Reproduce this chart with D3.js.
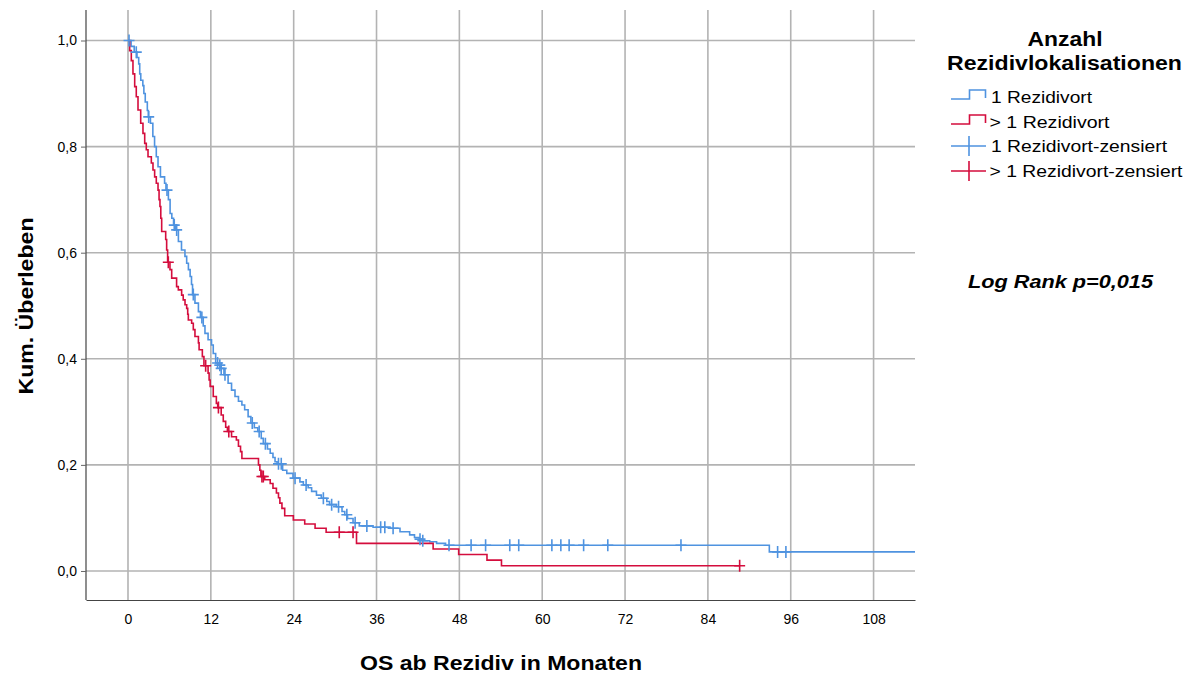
<!DOCTYPE html>
<html><head><meta charset="utf-8">
<script src="https://cdn.jsdelivr.net/npm/d3@7"></script>
<style>html,body{margin:0;padding:0;background:#fff;}svg{display:block;font-family:"Liberation Sans",Arial,Helvetica,sans-serif;}</style>
</head><body>
<svg id="chart" width="1191" height="673"></svg>
<script>
// ---- data ----
const xTicks = [0, 12, 24, 36, 48, 60, 72, 84, 96, 108];
const yTicks = [0, 0.2, 0.4, 0.6, 0.8, 1.0];
const yTickLabels = ["0,0", "0,2", "0,4", "0,6", "0,8", "1,0"];

const groupNames = ["1 Rezidivort", "> 1 Rezidivort"];
const censorNames = ["1 Rezidivort-zensiert", "> 1 Rezidivort-zensiert"];

// Group "1 Rezidivort": time at which survival drops to the value
const blueTime = [0, 0.45, 0.9, 1.3, 1.55, 1.7, 1.85, 2.15, 2.3, 2.5, 2.8, 2.95, 3.25, 3.6, 3.85, 4.1, 4.35, 4.7, 5.3, 5.5, 5.85, 6.1, 6.35, 6.6, 6.9, 7.3, 7.75, 8.25, 8.5, 8.75, 9.0, 9.2, 9.35, 9.7, 10.2, 10.5, 10.9, 11.15, 11.6, 12.1, 12.35, 12.7, 13.2, 13.4, 13.9, 14.5, 15.0, 15.5, 16.0, 16.5, 16.9, 17.4, 17.8, 18.3, 18.8, 19.3, 19.6, 20.2, 20.6, 21.0, 21.3, 21.6, 22.4, 23.0, 23.9, 24.9, 25.4, 26.1, 26.6, 27.3, 28.0, 28.8, 29.2, 30.2, 31.0, 31.4, 31.8, 32.6, 33.5, 35.5, 38.0, 39.4, 40.8, 41.5, 42.2, 42.6, 43.7, 44.7, 46.0, 92.9];
const blueSurv = [1, 0.989, 0.978, 0.968, 0.956, 0.937, 0.925, 0.915, 0.9, 0.884, 0.868, 0.856, 0.844, 0.819, 0.8, 0.781, 0.762, 0.743, 0.731, 0.718, 0.7, 0.674, 0.665, 0.652, 0.643, 0.621, 0.605, 0.593, 0.58, 0.568, 0.555, 0.54, 0.521, 0.505, 0.489, 0.478, 0.462, 0.448, 0.436, 0.426, 0.41, 0.392, 0.388, 0.382, 0.37, 0.354, 0.341, 0.329, 0.32, 0.313, 0.304, 0.291, 0.279, 0.27, 0.263, 0.25, 0.24, 0.23, 0.222, 0.214, 0.206, 0.202, 0.19, 0.184, 0.175, 0.168, 0.162, 0.157, 0.15, 0.143, 0.137, 0.131, 0.125, 0.121, 0.112, 0.106, 0.099, 0.091, 0.085, 0.0825, 0.0805, 0.074, 0.068, 0.063, 0.06, 0.057, 0.055, 0.052, 0.0485, 0.036];
const blueEnd = 114;
const blueCensor = [0.15, 1.2, 3.0, 5.65, 6.7, 7.05, 9.46, 10.7, 12.98, 13.3, 13.5, 14.05, 18.0, 19.0, 19.9, 21.8, 22.2, 24.2, 25.8, 28.3, 29.5, 30.5, 31.7, 32.9, 34.6, 36.6, 37.2, 38.4, 42.3, 42.7, 46.5, 49.7, 51.8, 55.3, 56.6, 61.4, 62.7, 63.9, 66.0, 69.5, 80.1, 94.1, 95.3];

// Group "> 1 Rezidivort"
const redTime = [0, 0.24, 0.48, 0.72, 0.97, 1.2, 1.45, 1.84, 2.17, 2.42, 2.65, 2.9, 3.38, 3.62, 3.86, 4.1, 4.35, 4.5, 4.63, 4.75, 4.88, 5.46, 5.6, 5.74, 6.08, 6.33, 7.04, 7.29, 7.77, 8.0, 8.26, 8.5, 8.65, 8.74, 9.22, 9.46, 9.7, 10.2, 10.3, 10.77, 11.0, 11.6, 11.75, 11.9, 12.35, 12.8, 13.0, 13.5, 13.8, 14.15, 14.4, 15.0, 15.7, 16.0, 16.3, 16.5, 18.9, 19.1, 19.25, 19.8, 20.6, 21.0, 21.5, 21.8, 22.0, 22.3, 22.7, 23.95, 25.6, 27.1, 28.7, 33.1, 44.2, 47.9, 52.0, 54.1];
const redSurv = [1, 0.981, 0.962, 0.937, 0.913, 0.894, 0.869, 0.844, 0.825, 0.806, 0.794, 0.781, 0.769, 0.756, 0.743, 0.731, 0.718, 0.7, 0.687, 0.665, 0.64, 0.625, 0.605, 0.582, 0.568, 0.552, 0.536, 0.53, 0.52, 0.511, 0.502, 0.495, 0.484, 0.473, 0.467, 0.455, 0.442, 0.43, 0.417, 0.404, 0.387, 0.373, 0.36, 0.348, 0.329, 0.316, 0.308, 0.294, 0.282, 0.271, 0.263, 0.253, 0.247, 0.235, 0.225, 0.212, 0.2, 0.19, 0.178, 0.172, 0.165, 0.156, 0.147, 0.138, 0.128, 0.118, 0.104, 0.096, 0.0887, 0.0805, 0.073, 0.052, 0.0415, 0.031, 0.0205, 0.010];
const redEnd = 88.6;
const redCensor = [5.84, 11.25, 13.1, 14.6, 19.4, 19.6, 30.6, 32.6, 88.6];

// ---- layout / style ----
const BLUE = "#4f93e0", RED = "#d40d3d", GRID = "#b3b3b3";
const svg = d3.select("#chart");
const L = 86, R = 915, T = 10, B = 600;
const x = d3.scaleLinear().domain([-6.083, 114]).range([L, R]);
const y = d3.scaleLinear().domain([-0.0547, 1.0575]).range([B, T]);

// gridlines
svg.append("g").selectAll("line").data(xTicks).join("line")
  .attr("x1", d => x(d)).attr("x2", d => x(d)).attr("y1", T).attr("y2", B)
  .attr("stroke", GRID).attr("stroke-width", 1.6);
svg.append("g").selectAll("line").data(yTicks).join("line")
  .attr("x1", L).attr("x2", R).attr("y1", d => y(d)).attr("y2", d => y(d))
  .attr("stroke", GRID).attr("stroke-width", 1.6);

// axes
const xAxis = d3.axisBottom(x).tickValues(xTicks).tickSize(0).tickPadding(14).tickFormat(d3.format("d"));
const gx = svg.append("g").attr("transform", `translate(0,${B})`).call(xAxis);
gx.select(".domain").attr("stroke", "#444").attr("stroke-width", 1.2);
gx.selectAll("text").attr("font-size", 14).attr("fill", "#000").attr("font-family", "Liberation Sans, Arial, sans-serif");

const yAxis = d3.axisLeft(y).tickValues(yTicks).tickSize(5).tickPadding(4)
  .tickFormat((d, i) => yTickLabels[i]);
const gy = svg.append("g").attr("transform", `translate(${L},0)`).call(yAxis);
gy.select(".domain").attr("stroke", "#444").attr("stroke-width", 1.2).attr("d", `M0,${T}V${B}`);
gy.selectAll(".tick line").attr("stroke", "#666");
gy.selectAll("text").attr("font-size", 14).attr("fill", "#000").attr("font-family", "Liberation Sans, Arial, sans-serif");

// survival curves
function stepPoints(times, surv, end) {
  const n = Math.min(times.length, surv.length);
  const pts = [];
  for (let i = 0; i < n; i++) pts.push([times[i], surv[i]]);
  pts.push([end, surv[n - 1]]);
  return pts;
}
function survAt(times, surv, t) {
  let s = surv[0];
  for (let i = 0; i < Math.min(times.length, surv.length); i++) { if (times[i] <= t) s = surv[i]; }
  return s;
}
const line = d3.line().x(d => x(d[0])).y(d => y(d[1])).curve(d3.curveStepAfter);

const groups = [
  {time: blueTime, surv: blueSurv, end: blueEnd, cens: blueCensor, color: BLUE},
  {time: redTime, surv: redSurv, end: redEnd, cens: redCensor, color: RED}
];
// draw blue first then red on top? reference shows red mostly on top in overlaps
groups.forEach(g => {
  svg.append("path").datum(stepPoints(g.time, g.surv, g.end))
    .attr("d", line).attr("fill", "none").attr("stroke", g.color).attr("stroke-width", 1.6);
});
groups.forEach(g => {
  const cg = svg.append("g").attr("stroke", g.color).attr("stroke-width", 1.6);
  cg.selectAll("path").data(g.cens).join("path")
    .attr("d", t => {
      const cx = x(t), cy = y(survAt(g.time, g.surv, t));
      return `M${cx - 5.5},${cy}H${cx + 5.5}M${cx},${cy - 6}V${cy + 6}`;
    });
});

// axis titles
svg.append("text").attr("x", 501).attr("y", 670).attr("text-anchor", "middle")
  .attr("font-size", 21).attr("font-weight", "bold").attr("textLength", 282).attr("lengthAdjust", "spacingAndGlyphs")
  .text("OS ab Rezidiv in Monaten");
svg.append("text").attr("transform", "translate(33,306) rotate(-90)").attr("text-anchor", "middle")
  .attr("font-size", 21).attr("font-weight", "bold").attr("textLength", 177).attr("lengthAdjust", "spacingAndGlyphs")
  .text("Kum. Überleben");

// legend
svg.append("text").attr("x", 1065).attr("y", 46).attr("text-anchor", "middle")
  .attr("font-size", 19.5).attr("font-weight", "bold").attr("textLength", 75).attr("lengthAdjust", "spacingAndGlyphs")
  .text("Anzahl");
svg.append("text").attr("x", 1064.5).attr("y", 70).attr("text-anchor", "middle")
  .attr("font-size", 19.5).attr("font-weight", "bold").attr("textLength", 235).attr("lengthAdjust", "spacingAndGlyphs")
  .text("Rezidivlokalisationen");

const legendRows = [
  {label: groupNames[0], color: BLUE, type: "step", base: 103, width: 101},
  {label: groupNames[1], color: RED, type: "step", base: 128, width: 120},
  {label: censorNames[0], color: BLUE, type: "cens", base: 152, width: 176},
  {label: censorNames[1], color: RED, type: "cens", base: 177, width: 193}
];
legendRows.forEach(r => {
  const g = svg.append("g");
  if (r.type === "step") {
    const yb = r.base - 4, yt = r.base - 13;
    g.append("path").attr("d", `M951,${yb}H969.5V${yt}H985.5V${yb - 1}`)
      .attr("fill", "none").attr("stroke", r.color).attr("stroke-width", 1.6);
  } else {
    const yc = r.base - 6;
    g.append("path").attr("d", `M951,${yc}H986M969,${yc - 10}V${yc + 10}`)
      .attr("fill", "none").attr("stroke", r.color).attr("stroke-width", 1.6);
  }
  const txt = g.append("text").attr("x", r.label.startsWith(">") ? 989.5 : 991).attr("y", r.base)
    .attr("font-size", 16.5).attr("textLength", r.width).attr("lengthAdjust", "spacingAndGlyphs")
    .text(r.label);
});

svg.append("text").attr("x", 968).attr("y", 288).attr("font-size", 17.5)
  .attr("font-weight", "bold").attr("font-style", "italic")
  .attr("textLength", 185).attr("lengthAdjust", "spacingAndGlyphs")
  .text("Log Rank p=0,015");
</script>
</body></html>
